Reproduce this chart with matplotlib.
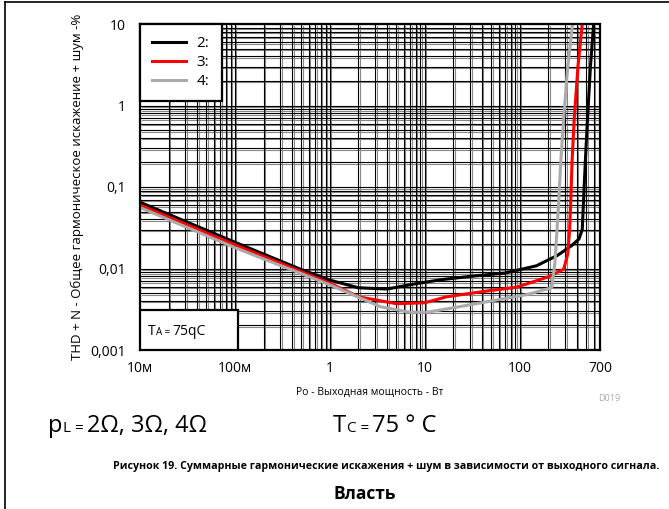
import matplotlib
matplotlib.use("Agg")
import matplotlib.pyplot as plt
from matplotlib.ticker import LogLocator, NullFormatter
from matplotlib.transforms import ScaledTranslation

plt.rcParams['font.family'] = ['Open Sans', 'DejaVu Sans']

# --- DATA ---
x_2ohm = [0.01, 0.1, 0.5, 1, 2, 4, 8, 15, 30, 70, 150, 250, 350, 420, 455, 470, 490, 516, 555, 600]
y_2ohm = [0.065, 0.021, 0.0097, 0.0072, 0.0058, 0.0056, 0.0065, 0.0073, 0.008, 0.0088,
          0.0108, 0.0145, 0.019, 0.023, 0.03, 0.07, 0.2, 0.66, 3, 10]

x_3ohm = [0.01, 0.1, 1, 2, 5, 10, 17, 40, 93, 200, 290, 320, 335, 345, 355, 374, 410, 455]
y_3ohm = [0.060, 0.0195, 0.0066, 0.0045, 0.0037, 0.0038, 0.0045, 0.0052, 0.0059, 0.0079,
          0.0098, 0.015, 0.03, 0.07, 0.2, 0.66, 3, 10]

x_4ohm = [0.01, 0.1, 1, 3.4, 7, 10.5, 20, 57, 120, 217, 235, 256, 270, 289, 320, 360]
y_4ohm = [0.056, 0.018, 0.0063, 0.0034, 0.0029, 0.0029, 0.0033, 0.0041, 0.0048, 0.0058,
          0.012, 0.06, 0.2, 0.66, 3, 10]

series_labels = ['2:', '3:', '4:']
series_colors = ['black', 'red', '#aaaaaa']

x_ticks = [0.01, 0.1, 1, 10, 100, 700]
x_ticklabels = ['10м', '100м', '1', '10', '100', '700']
y_ticks = [0.001, 0.01, 0.1, 1, 10]
y_ticklabels = ['0,001', '0,01', '0,1', '1', '10']

narrow = ['Liberation Sans Narrow', 'Open Sans', 'DejaVu Sans']

# --- FIGURE ---
fig = plt.figure(figsize=(6.69, 5.09), dpi=100)
ax = fig.add_axes([140 / 669, 1 - 350 / 509, 460 / 669, 326 / 509])

ax.set_xscale('log')
ax.set_yscale('log')
ax.set_xlim(0.01, 700)
ax.set_ylim(0.001, 10)

ax.xaxis.set_minor_locator(LogLocator(base=10, subs=range(2, 10), numticks=20))
ax.yaxis.set_minor_locator(LogLocator(base=10, subs=range(2, 10), numticks=20))
ax.xaxis.set_minor_formatter(NullFormatter())
ax.yaxis.set_minor_formatter(NullFormatter())

ax.set_xticks(x_ticks)
ax.set_xticklabels(x_ticklabels)
ax.set_yticks(y_ticks)
ax.set_yticklabels(y_ticklabels)
ax.tick_params(which='both', length=0, labelsize=10)
ax.tick_params(axis='x', pad=8)
ax.tick_params(axis='y', pad=10)

# dense grid: black lines with a grey twin just beside each
ax.grid(True, which='both', color='black', lw=0.8, zorder=1)
shift = ScaledTranslation(1.5 / 100, -1.5 / 100, fig.dpi_scale_trans)
grid_x = [10.0 ** d * m for d in range(-2, 3) for m in range(1, 10) if 0.01 < 10.0 ** d * m < 700]
grid_y = [10.0 ** d * m for d in range(-3, 1) for m in range(1, 10) if 0.001 < 10.0 ** d * m < 10]
for xv in grid_x:
    ax.plot([xv, xv], [0, 1], color='#888888', lw=0.8, zorder=1,
            transform=ax.get_xaxis_transform() + shift)
for yv in grid_y:
    ax.plot([0, 1], [yv, yv], color='#888888', lw=0.8, zorder=1,
            transform=ax.get_yaxis_transform() + shift)

for sp in ax.spines.values():
    sp.set_linewidth(1.6)
    sp.set_color('black')
    sp.set_zorder(5)

for xs, ys, lab, col in zip([x_2ohm, x_3ohm, x_4ohm], [y_2ohm, y_3ohm, y_4ohm],
                            series_labels, series_colors):
    ax.plot(xs, ys, color=col, lw=2.2, label=lab, zorder=3, solid_joinstyle='round')

ax.set_xlim(0.01, 700)
ax.set_ylim(0.001, 10)

leg = ax.legend(loc='upper left', fontsize=11, frameon=True, fancybox=False,
                borderaxespad=0, handlelength=2.2, handletextpad=0.7,
                labelspacing=0.25, borderpad=0.8, framealpha=1)
leg.get_frame().set_edgecolor('black')
leg.get_frame().set_linewidth(1.6)
leg.set_zorder(6)

ax.set_xlabel('Po - Выходная мощность - Вт', fontsize=7.5, labelpad=8)
ax.set_ylabel('THD + N - Общее гармоническое искажение + шум -%', fontsize=9.5, labelpad=5)


def after(prev, s, size, gap=1.0, rise=0.0, **kw):
    # put a text piece right after the previous one
    return ax.annotate(s, xy=(1, 0), xycoords=prev, xytext=(gap, rise),
                       textcoords='offset points', va='bottom', ha='left',
                       fontsize=size, annotation_clip=False, **kw)


# TA box in the lower left corner
ax.add_patch(plt.Rectangle((0, 0), 98 / 460, 40 / 326, transform=ax.transAxes,
                           facecolor='white', edgecolor='black', lw=1.6, zorder=6))
t = fig.text(148 / 669, 1 - 339 / 509, 'T', fontsize=10, va='bottom', zorder=7)
t2 = after(t, 'A =', 7, gap=0.3, rise=0.7, zorder=7)
ax.annotate('75qC', xy=(1, 0), xycoords=t2, xytext=(1.5, -0.7), textcoords='offset points',
            va='bottom', ha='left', fontsize=10, annotation_clip=False, zorder=7)

fig.text(598 / 669, 1 - 401 / 509, 'D019', fontsize=6.5, color='#aaaaaa')

# conditions line
t = fig.text(48 / 669, 1 - 438 / 509, 'p', fontsize=17, va='bottom', family=narrow)
t2 = after(t, 'L =', 11, gap=0.5, rise=1.3, family=narrow)
ax.annotate('2Ω, 3Ω, 4Ω', xy=(1, 0), xycoords=t2, xytext=(2, -1.3), textcoords='offset points',
            va='bottom', ha='left', fontsize=17, annotation_clip=False, family=narrow)
t = fig.text(333 / 669, 1 - 438 / 509, 'T', fontsize=17, va='bottom', family=narrow)
t2 = after(t, 'C =', 11, gap=0.5, rise=1.3, family=narrow)
ax.annotate('75 ° C', xy=(1, 0), xycoords=t2, xytext=(2, -1.3), textcoords='offset points',
            va='bottom', ha='left', fontsize=17, annotation_clip=False, family=narrow)

fig.text(386 / 669, 1 - 466 / 509,
         'Рисунок 19. Суммарные гармонические искажения + шум в зависимости от выходного сигнала.',
         fontsize=7.7, fontweight='bold', ha='center', va='center', family=narrow)
fig.text(365 / 669, 1 - 494 / 509, 'Власть', fontsize=12.5, fontweight='bold',
         ha='center', va='center', family=narrow)

# page frame (top and left edges)
fig.add_artist(plt.Line2D([5 / 669, 5 / 669], [0, 1 - 2 / 509], color='black', lw=1.2))
fig.add_artist(plt.Line2D([5 / 669, 1], [1 - 2 / 509, 1 - 2 / 509], color='black', lw=1.2))

fig.savefig('out.png', dpi=100)
